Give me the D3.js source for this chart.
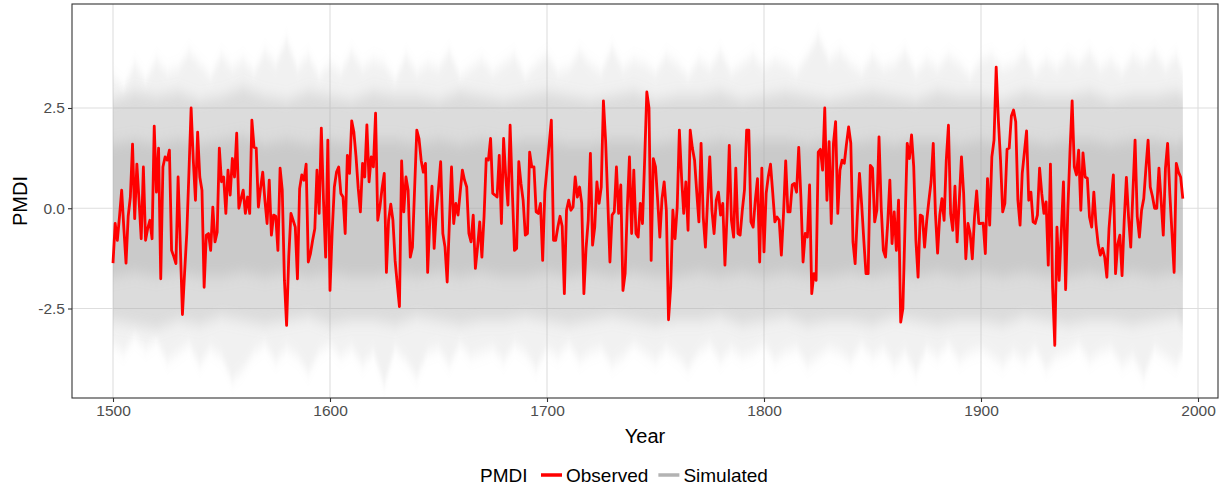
<!DOCTYPE html>
<html>
<head>
<meta charset="utf-8">
<script src="https://cdn.jsdelivr.net/npm/d3@7"></script>
<style>
  body { margin: 0; background: #fff; }
  svg { display: block; font-family: "Liberation Sans", Arial, sans-serif; }
</style>
</head>
<body>
<div id="container"></div>
<script>
// observed PMDI, one value per year from 1500
const observed = [
  -1.37, -0.38, -0.8, -0.2, 0.45, -0.5, -1.37, -0.2, 0.28, 1.6,
  -0.26, 1.1, 0.2, -0.76, 1.03, -0.8, -0.5, -0.3, -0.76, 2.05,
  0.4, 1.5, -1.76, 1.03, 1.28, 1.2, 1.45, -1.05, -1.2, -1.38,
  0.78, -0.9, -2.65, -1.6, -0.63, 0.9, 2.5, 1.2, 0.2, 1.9,
  0.78, 0.45, -1.97, -0.67, -0.63, -1.05, 0.03, -0.84, -0.6, 1.5,
  0.66, 0.78, -0.13, 0.95, 0.33, 1.24, 0.78, 1.87, 0, 0.24,
  0.45, -0.13, 0.28, -0.13, 2.2, 1.52, 1.5, 0.03, 0.5, 0.9,
  0.2, -0.38, 0.7, -0.67, -0.17, -0.2, -1.05, 1.0, 0.45, -1.8,
  -2.92, -1.2, -0.13, -0.3, -0.47, -1.76, 0.49, 0.83, 0.7, 1.1,
  -1.34, -1.13, -0.8, -0.51, 0.95, -0.13, 2.0, 0.2, -1.22, 1.7,
  -2.05, -0.6, 0.53, 0.9, 1.03, 0.37, 0.28, -0.63, 1.32, 0.87,
  2.18, 1.9, 1.28, 0.5, -0.09, 1.12, 0.78, 2.08, 0.66, 1.28,
  1.03, 2.37, -0.3, 0.03, 0.5, 0.87, -1.6, -0.3, 0.1, -0.3,
  -1.3, -1.9, -2.45, 1.18, -0.09, 0.78, 0.45, -1.22, -0.97, 0.5,
  1.95, 1.74, 1.2, 0.9, 1.12, -1.6, -0.3, 0.55, -1.0, -0.09,
  0.5, 1.16, -0.63, -0.97, -1.84, -0.4, 1.03, -0.38, 0.12, -0.17,
  0.4, 0.95, 0.7, 0.53, -0.63, -0.84, -0.17, -1.5, -0.97, -0.34,
  -1.22, -0.2, 1.24, 1.2, 1.74, 0.37, 0.33, 0.28, 1.32, -0.38,
  1.74, 0.78, 0.08, 2.07, 0.45, -1.05, -1.0, 1.16, 0.62, 0.2,
  -0.67, -0.63, 1.4, 1.03, 1.03, -0.09, -0.13, 0.12, -1.3, 0.4,
  1.0, 1.6, 2.2, -0.8, -0.8, -0.47, -0.2, -0.45, -2.13, -0.05,
  0.2, -0.05, 0.03, 0.78, 0.28, 0.53, 0.12, -2.13, -1.0, -0.3,
  1.37, -0.92, -0.47, 0.66, 0.12, 0.53, 2.68, 1.7, 0.2, -1.34,
  -0.17, -0.09, 1.03, -0.13, 0.58, -2.05, -1.63, 0, 1.28, -0.63,
  0.95, -0.63, -0.72, 0.12, -0.38, 1.2, 2.9, 2.5, -1.3, 1.24,
  1.03, 0.2, -0.72, 0.24, 0.66, -0.05, -2.78, -1.97, -0.05, -0.76,
  0.03, 1.95, 0.78, -0.13, 0.66, -0.55, 1.95, 1.5, 1.2, 0.4,
  -0.34, 1.62, -0.22, -0.97, 0.2, 1.28, -0.05, -0.63, 0.2, 0.4,
  -0.17, 0.12, -1.42, -0.13, 1.57, -0.3, -0.72, 1.0, -0.63, -0.67,
  -0.05, 0.45, 1.95, 1.95, -0.34, -0.47, 0.2, 0.74, -1.34, 1.0,
  -1.09, 0.37, 0.8, 1.1, 0.4, -0.34, -0.22, -0.3, -1.17, -0.13,
  1.18, -0.09, -0.09, 0.58, 0.62, 0.4, 1.52, 0.28, -1.34, -0.63,
  -0.72, 0.58, -2.13, -1.63, -1.8, 1.4, 1.47, 0.95, 2.5, 0.2,
  1.66, -0.38, 1.62, 2.16, -0.13, 0.95, 1.2, 1.12, 1.6, 2.03,
  1.62, -0.84, -1.38, -0.2, 0.87, 0.1, -0.8, -1.63, -1.63, 1.07,
  1.0, -0.34, -0.05, 1.78, 0.03, -1.05, -1.22, -0.38, 0.7, -0.88,
  -0.09, -1.05, 0.2, -2.84, -2.5, -0.4, 1.62, 1.24, 1.83, 1.03,
  -0.8, -1.72, -0.17, -0.2, -0.97, -0.3, 0.2, 0.66, 1.62, -0.13,
  -1.12, -0.17, 0.24, -0.3, 1.2, 2.07, -0.13, -0.55, 0.55, -0.84,
  0.2, 1.28, 0.37, -1.26, -0.38, -0.63, -1.26, -0.22, 0.43, -0.38,
  -0.38, -0.37, -1.13, 0.74, -0.42, 1.28, 1.7, 3.52, 2.2, 1.2,
  -0.09, 0.12, 1.47, 1.5, 2.3, 2.45, 2.16, 0.2, -0.42, 0.87,
  1.4, 1.93, 0.2, 0.4, -0.34, -0.38, -0.17, 1.0, 0.37, -0.13,
  0.16, -1.42, 1.1, -1.97, -3.42, -0.47, -1.8, -0.6, 0.66, -2.03,
  -0.05, 1.4, 2.68, 1.03, 0.83, 1.45, -0.05, 1.38, 0.78, 0.75,
  -0.22, -0.47, 0.4, -0.4, -0.9, -1.17, -1.0, -1.22, -1.72, -0.5,
  0.2, 0.83, -1.63, -0.9, -0.67, -1.68, -0.3, 0.77, -0.22, -0.97,
  0.4, 1.7, -0.2, -0.72, -0.05, 0.24, 1.0, 1.7, 0.53, 0.3,
  0, 0, 1.0, 0.2, -0.67, 1.0, 1.62, 0.37, -0.6, -1.6,
  1.12, 0.9, 0.78, 0.24
]
const firstYear = 1500
const lastYear = firstYear + observed.length - 1

// simulated ensemble: extremes every 5 years (1500..1995, last clipped to the record end)
const simMax = [
  3.3, 3.0, 3.6, 3.2, 3.7, 3.4, 3.5, 3.9, 3.6, 3.3,
  3.8, 3.5, 3.7, 3.4, 3.9, 3.6, 4.2, 3.5, 3.8, 3.3,
  3.6, 3.4, 3.9, 3.5, 3.7, 3.6, 3.2, 3.8, 3.4, 3.6,
  3.5, 3.9, 3.3, 3.5, 3.7, 3.4, 3.6, 3.8, 3.3, 3.6,
  3.8, 3.4, 3.5, 3.9, 3.6, 3.4, 4.0, 3.5, 3.7, 3.6,
  3.4, 3.8, 3.6, 3.3, 3.7, 3.5, 3.9, 3.4, 3.6, 3.8,
  3.5, 3.7, 3.6, 3.4, 3.8, 4.3, 3.7, 3.9, 3.6, 3.4,
  3.8, 3.5, 3.6, 3.9, 3.4, 3.7, 3.5, 3.8, 3.6, 3.3,
  3.7, 3.8, 3.5, 3.6, 3.9, 3.4, 3.7, 3.5, 3.8, 3.6,
  3.9, 3.5, 3.7, 3.4, 3.8, 3.6, 3.9, 3.5, 3.8, 3.4
]
const simMin = [
  -3.4, -3.6, -3.2, -3.5, -3.3, -3.8, -3.6, -3.4, -3.9, -3.5,
  -3.7, -4.3, -4.0, -3.6, -3.4, -3.8, -3.5, -3.7, -4.1, -3.6,
  -3.4, -3.7, -3.5, -3.9, -3.6, -4.4, -3.5, -3.8, -4.2, -3.6,
  -3.5, -3.9, -3.4, -3.7, -3.6, -3.5, -3.8, -3.4, -3.6, -4.0,
  -3.5, -3.7, -3.4, -3.8, -3.6, -3.5, -3.9, -3.7, -3.4, -3.6,
  -3.8, -3.5, -3.7, -4.0, -3.6, -3.4, -3.8, -3.5, -3.7, -3.6,
  -3.4, -3.8, -3.6, -3.5, -3.9, -3.7, -3.5, -3.6, -3.8, -3.4,
  -3.7, -3.5, -3.9, -3.6, -4.1, -3.5, -3.7, -3.4, -3.8, -3.6,
  -3.5, -3.7, -3.9, -3.6, -3.8, -3.5, -4.0, -3.7, -3.6, -3.4,
  -3.8, -3.6, -3.5, -3.9, -3.7, -4.2, -3.5, -3.7, -3.9, -3.6
]
// inner spread of the ensemble, every 10 years (1500..2000, clipped)
const simHi90 = [
  2.7, 2.9, 2.8, 2.9, 2.7, 2.8, 3.0, 2.8, 2.7, 2.9,
  2.8, 2.7, 2.9, 2.8, 2.8, 2.7, 2.9, 2.8, 2.7, 2.8,
  2.9, 2.8, 2.7, 2.8, 2.9, 2.7, 2.8, 2.8, 2.9, 2.7,
  2.8, 2.9, 2.8, 2.7, 2.8, 2.9, 2.8, 2.7, 2.9, 2.8,
  2.8, 2.7, 2.9, 2.8, 2.8, 2.9, 2.7, 2.8, 2.8, 2.9, 2.8
]
const simLo90 = [
  -2.8, -2.9, -3.0, -2.8, -2.9, -2.7, -2.8, -2.9, -2.8, -2.7,
  -2.9, -2.8, -2.8, -2.9, -2.7, -2.8, -2.9, -2.8, -2.8, -2.7,
  -2.8, -2.9, -2.8, -2.7, -2.8, -2.9, -2.8, -2.8, -2.7, -2.9,
  -2.8, -2.7, -2.9, -2.8, -2.8, -2.9, -2.7, -2.8, -2.9, -2.8,
  -2.8, -2.9, -2.7, -2.8, -2.9, -2.8, -2.8, -2.9, -2.8, -2.7, -2.9
]
const simHi50 = [
  1.6, 1.7, 1.6, 1.7, 1.6, 1.7, 1.8, 1.6, 1.7, 1.6,
  1.7, 1.6, 1.7, 1.7, 1.6, 1.7, 1.6, 1.7, 1.6, 1.7,
  1.7, 1.6, 1.6, 1.7, 1.7, 1.6, 1.7, 1.6, 1.7, 1.6,
  1.7, 1.7, 1.6, 1.7, 1.6, 1.7, 1.6, 1.7, 1.7, 1.6,
  1.7, 1.6, 1.7, 1.6, 1.7, 1.7, 1.6, 1.7, 1.7, 1.6, 1.7
]
const simLo50 = [
  -1.7, -1.6, -1.7, -1.6, -1.7, -1.7, -1.6, -1.7, -1.6, -1.7,
  -1.6, -1.7, -1.7, -1.6, -1.7, -1.6, -1.7, -1.6, -1.7, -1.7,
  -1.6, -1.7, -1.6, -1.7, -1.6, -1.7, -1.7, -1.6, -1.7, -1.6,
  -1.7, -1.6, -1.7, -1.7, -1.6, -1.7, -1.6, -1.7, -1.6, -1.7,
  -1.6, -1.7, -1.6, -1.7, -1.7, -1.6, -1.7, -1.6, -1.7, -1.6, -1.7
]

const xTicks = [1500, 1600, 1700, 1800, 1900, 2000]
const yTicks = [-2.5, 0, 2.5]
const yTickLabels = ['-2.5', '0.0', '2.5']
const legendItems = [
  {label: 'Observed', color: '#ff0000'},
  {label: 'Simulated', color: '#b3b3b3'}
]

const width = 1221
const height = 484
const panel = {left: 72, right: 1218, top: 4, bottom: 398}

const xScale = d3.scaleLinear().domain([1500, 2000]).range([113, 1198])
const yScale = d3.scaleLinear().domain([-2.5, 2.5]).range([308.5, 108])

const svg = d3.select('#container').append('svg')
  .attr('width', width)
  .attr('height', height)

const defs = svg.append('defs')
defs.append('filter').attr('id', 'soft')
  .attr('x', '0%').attr('width', '100%').attr('y', '-20%').attr('height', '140%')
  .append('feGaussianBlur').attr('stdDeviation', '0 7')
defs.append('clipPath').attr('id', 'panelclip')
  .append('rect').attr('x', panel.left).attr('y', panel.top)
  .attr('width', panel.right - panel.left).attr('height', panel.bottom - panel.top)

// grid
const grid = svg.append('g')
grid.selectAll('line.gx')
  .data(xTicks)
  .enter().append('line')
  .attr('x1', d => xScale(d)).attr('x2', d => xScale(d))
  .attr('y1', panel.top).attr('y2', panel.bottom)
  .attr('stroke', '#dedede').attr('stroke-width', 1.1)
grid.selectAll('line.gy')
  .data(yTicks)
  .enter().append('line')
  .attr('x1', panel.left).attr('x2', panel.right)
  .attr('y1', d => yScale(d)).attr('y2', d => yScale(d))
  .attr('stroke', '#dedede').attr('stroke-width', 1.1)

// simulated band, layered and softened vertically
const clip = y => Math.min(y, lastYear)
const every5 = simMax.map((v, i) => ({year: clip(firstYear + i * 5), hi: v, lo: simMin[i]}))
const every10a = simHi90.map((v, i) => ({year: clip(firstYear + i * 10), hi: v, lo: simLo90[i]}))
const every10b = simHi50.map((v, i) => ({year: clip(firstYear + i * 10), hi: v, lo: simLo50[i]}))

const band = d3.area()
  .x(d => xScale(d.year))
  .y0(d => yScale(d.lo))
  .y1(d => yScale(d.hi))

const sim = svg.append('g').attr('clip-path', 'url(#panelclip)')
sim.append('path').datum(every5).attr('d', band)
  .attr('fill', '#aaaaaa').attr('fill-opacity', 0.17).attr('filter', 'url(#soft)')
sim.append('path').datum(every10a).attr('d', band)
  .attr('fill', '#aaaaaa').attr('fill-opacity', 0.3).attr('filter', 'url(#soft)')
sim.append('path').datum(every10b).attr('d', band)
  .attr('fill', '#aaaaaa').attr('fill-opacity', 0.36).attr('filter', 'url(#soft)')

// observed line
const obs = observed.map((v, i) => ({year: firstYear + i, v: v}))
svg.append('path').datum(obs)
  .attr('d', d3.line().x(d => xScale(d.year)).y(d => yScale(d.v)))
  .attr('fill', 'none')
  .attr('stroke', '#ff0000')
  .attr('stroke-width', 2.8)
  .attr('stroke-linejoin', 'round')

// panel border
svg.append('rect')
  .attr('x', panel.left).attr('y', panel.top)
  .attr('width', panel.right - panel.left)
  .attr('height', panel.bottom - panel.top)
  .attr('fill', 'none').attr('stroke', '#333333').attr('stroke-width', 1.1)

// axes
const xAxis = d3.axisBottom(xScale).tickValues(xTicks).tickFormat(d3.format('d')).tickSize(4).tickPadding(3)
const yAxis = d3.axisLeft(yScale).tickValues(yTicks).tickFormat((d, i) => yTickLabels[i]).tickSize(4).tickPadding(3)

const gx = svg.append('g')
  .attr('id', 'x-axis')
  .attr('transform', `translate(0, ${panel.bottom})`)
  .call(xAxis)
const gy = svg.append('g')
  .attr('id', 'y-axis')
  .attr('transform', `translate(${panel.left}, 0)`)
  .call(yAxis)
gx.select('.domain').remove()
gy.select('.domain').remove()
svg.selectAll('.tick line').attr('stroke', '#333333').attr('stroke-width', 1.1)
svg.selectAll('.tick text').attr('fill', '#4d4d4d').style('font-size', '15.5px')
  .style('font-family', '"Liberation Sans", Arial, sans-serif')

// titles
svg.append('text')
  .attr('x', (panel.left + panel.right) / 2).attr('y', 443)
  .attr('text-anchor', 'middle')
  .style('font-size', '20px')
  .text('Year')
svg.append('text')
  .attr('transform', `translate(27, ${(panel.top + panel.bottom) / 2}) rotate(-90)`)
  .attr('text-anchor', 'middle')
  .style('font-size', '20px')
  .text('PMDI')

// legend
const legend = svg.append('g').attr('transform', 'translate(480, 475)')
legend.append('text').attr('x', 0).attr('y', 6.5).style('font-size', '19px').text('PMDI')
let lx = 61
legendItems.forEach(item => {
  legend.append('line')
    .attr('x1', lx).attr('x2', lx + 21)
    .attr('y1', 0).attr('y2', 0)
    .attr('stroke', item.color).attr('stroke-width', 3.5)
  const t = legend.append('text')
    .attr('x', lx + 25).attr('y', 6.5)
    .style('font-size', '19px')
    .text(item.label)
  lx += 25 + t.node().getComputedTextLength() + 10
})
</script>
</body>
</html>
